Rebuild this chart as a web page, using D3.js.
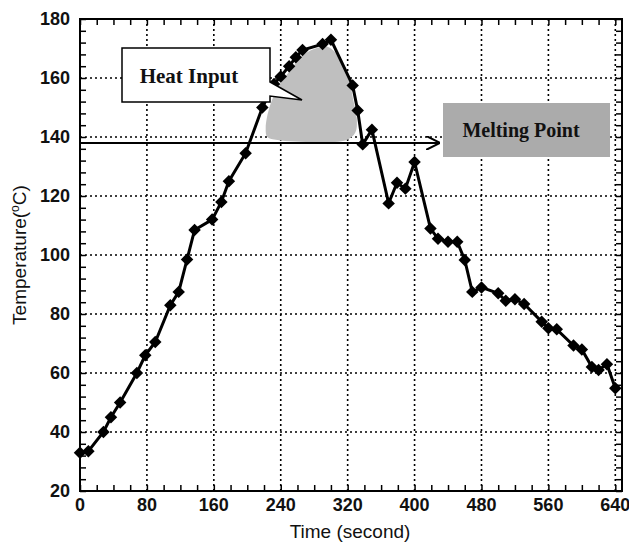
<!DOCTYPE html>
<html>
<head>
<meta charset="utf-8">
<script src="https://cdn.jsdelivr.net/npm/d3@7"></script>
<style>
  body { margin: 0; background: #fff; }
  svg { display: block; }
</style>
</head>
<body>
<div id="chart"></div>
<script>
// time (s) and temperature (C)
var times = [0,10,28,37,48,68,78,90,108,118,128,137,158,169,178,198,218,232,240,250,258,266,290,300,326,332,338,349,369,379,389,400,419,428,440,451,460,469,480,500,509,520,531,552,560,570,590,600,612,620,630,640];
var temps = [33,33.5,40,45,50,60,66,70.5,83,87.5,98.5,108.5,112,118,125,134.5,150,158,160.5,164,167,169.5,171.5,173,157.5,149,137.5,142.5,117.5,124.5,122.5,131.5,109,105.5,104.5,104.5,98.3,87.5,89,87,84.5,85,83.4,77.4,75.2,74.8,69.3,68,62,61,63,54.8];

var xTicks = [0,80,160,240,320,400,480,560,640];
var yTicks = [20,40,60,80,100,120,140,160,180];

var meltingPoint = 138;
// outline of the shaded "heat input" area, in data units
var heatTimes = [222,227,238,252,266,285,296,308,320,326,331,329,319,287,236,224];
var heatTemps = [143,150.5,157.5,162.8,167.6,170.3,170.6,167.8,161.7,153.6,145.8,141.4,139,138.3,139,140];

var width = 629,
    height = 543;

var svg = d3.select("#chart")
    .append("svg")
    .attr("width", width)
    .attr("height", height)

var x = d3.scaleLinear().domain([0, 648]).range([80, 622])
var y = d3.scaleLinear().domain([20, 180]).range([491, 19])

var data = times.map(function(t, i) { return {t: t, v: temps[i]} })

// grid
svg.append("g").selectAll("line")
    .data(yTicks.slice(1, -1))
    .enter().append("line")
    .attr("x1", x(0)).attr("x2", x(648))
    .attr("y1", function(d) { return y(d) })
    .attr("y2", function(d) { return y(d) })
    .attr("stroke", "#000")
    .attr("stroke-width", 1.6)
    .attr("stroke-dasharray", "2,3")

svg.append("g").selectAll("line")
    .data(xTicks.slice(1))
    .enter().append("line")
    .attr("y1", y(20)).attr("y2", y(180))
    .attr("x1", function(d) { return x(d) })
    .attr("x2", function(d) { return x(d) })
    .attr("stroke", "#000")
    .attr("stroke-width", 1.6)
    .attr("stroke-dasharray", "2,3")

// axes with inward ticks on all sides
var xMinor = d3.range(0, 649, 20)
var yMinor = d3.range(20, 181, 4)

svg.append("g")
    .attr("transform", "translate(0," + y(20) + ")")
    .call(d3.axisTop(x).tickValues(xMinor).tickSize(6).tickFormat(""))
    .call(function(g) { g.select(".domain").remove() })
svg.append("g")
    .attr("transform", "translate(0," + y(180) + ")")
    .call(d3.axisBottom(x).tickValues(xMinor).tickSize(6).tickFormat(""))
    .call(function(g) { g.select(".domain").remove() })
svg.append("g")
    .attr("transform", "translate(" + x(0) + ",0)")
    .call(d3.axisRight(y).tickValues(yMinor).tickSize(6).tickFormat(""))
    .call(function(g) { g.select(".domain").remove() })
svg.append("g")
    .attr("transform", "translate(" + x(648) + ",0)")
    .call(d3.axisLeft(y).tickValues(yMinor).tickSize(6).tickFormat(""))
    .call(function(g) { g.select(".domain").remove() })
svg.selectAll(".tick line").attr("stroke", "#000").attr("stroke-width", 1.5)

// tick labels
svg.append("g").selectAll("text")
    .data(xTicks)
    .enter().append("text")
    .attr("x", function(d) { return x(d) })
    .attr("y", y(20) + 20)
    .attr("text-anchor", "middle")
    .attr("font-family", "Liberation Sans, Arial, sans-serif")
    .attr("font-weight", "bold")
    .attr("font-size", 18)
    .attr("fill", "#111")
    .text(function(d) { return d })

svg.append("g").selectAll("text")
    .data(yTicks)
    .enter().append("text")
    .attr("x", 70)
    .attr("y", function(d) { return y(d) + 6 })
    .attr("text-anchor", "end")
    .attr("font-family", "Liberation Sans, Arial, sans-serif")
    .attr("font-weight", "bold")
    .attr("font-size", 18)
    .attr("fill", "#111")
    .text(function(d) { return d })

// axis titles
svg.append("text")
    .attr("x", 350)
    .attr("y", 538)
    .attr("text-anchor", "middle")
    .attr("font-family", "Liberation Sans, Arial, sans-serif")
    .attr("font-size", 19)
    .attr("fill", "#111")
    .text("Time (second)")

var yt = svg.append("text")
    .attr("transform", "translate(26,255) rotate(-90)")
    .attr("text-anchor", "middle")
    .attr("font-family", "Liberation Sans, Arial, sans-serif")
    .attr("font-size", 19)
    .attr("fill", "#111")
yt.append("tspan").text("Temperature(")
yt.append("tspan").attr("baseline-shift", "super").attr("font-size", 12).text("o")
yt.append("tspan").text("C)")

// shaded heat input area
svg.append("path")
    .datum(heatTimes.map(function(t, i) { return [t, heatTemps[i]] }))
    .attr("d", d3.line()
        .x(function(d) { return x(d[0]) })
        .y(function(d) { return y(d[1]) })
        .curve(d3.curveCatmullRomClosed))
    .attr("fill", "#bfbfbf")

// melting point arrow
svg.append("defs").append("marker")
    .attr("id", "arrow")
    .attr("viewBox", "0 0 10 10")
    .attr("refX", 10).attr("refY", 5)
    .attr("markerWidth", 7).attr("markerHeight", 7)
    .attr("orient", "auto")
    .append("path")
    .attr("d", "M0,0 L10,5 L0,10")
    .attr("fill", "none")
    .attr("stroke", "#000")
    .attr("stroke-width", 1.5)

svg.append("line")
    .attr("x1", x(0)).attr("x2", 440)
    .attr("y1", y(meltingPoint)).attr("y2", y(meltingPoint))
    .attr("stroke", "#000")
    .attr("stroke-width", 2)
    .attr("marker-end", "url(#arrow)")

// data line + diamonds
svg.append("path")
    .datum(data)
    .attr("d", d3.line()
        .x(function(d) { return x(d.t) })
        .y(function(d) { return y(d.v) }))
    .attr("fill", "none")
    .attr("stroke", "#000")
    .attr("stroke-width", 3)

svg.append("g").selectAll("path")
    .data(data)
    .enter().append("path")
    .attr("d", d3.symbol().type(d3.symbolSquare).size(78))
    .attr("transform", function(d) {
        return "translate(" + x(d.t) + "," + y(d.v) + ") rotate(45)"
    })
    .attr("fill", "#000")

// frame
svg.append("rect")
    .attr("x", x(0)).attr("y", y(180))
    .attr("width", x(648) - x(0)).attr("height", y(20) - y(180))
    .attr("fill", "none")
    .attr("stroke", "#000")
    .attr("stroke-width", 2)

// "Heat Input" callout
svg.append("path")
    .attr("d", "M122,48 L270,48 L270,82 L302,100 L270,96 L270,102 L122,102 Z")
    .attr("fill", "#fff")
    .attr("stroke", "#000")
    .attr("stroke-width", 1.5)

svg.append("text")
    .attr("x", 189).attr("y", 83)
    .attr("text-anchor", "middle")
    .attr("font-family", "Liberation Serif, Times New Roman, serif")
    .attr("font-weight", "bold")
    .attr("font-size", 21)
    .attr("fill", "#111")
    .text("Heat Input")

// "Melting Point" label
svg.append("rect")
    .attr("x", 443).attr("y", 103)
    .attr("width", 167).attr("height", 54)
    .attr("fill", "#ababab")

svg.append("text")
    .attr("x", 521).attr("y", 137)
    .attr("text-anchor", "middle")
    .attr("font-family", "Liberation Serif, Times New Roman, serif")
    .attr("font-weight", "bold")
    .attr("font-size", 20)
    .attr("fill", "#111")
    .text("Melting Point")
</script>
</body>
</html>
